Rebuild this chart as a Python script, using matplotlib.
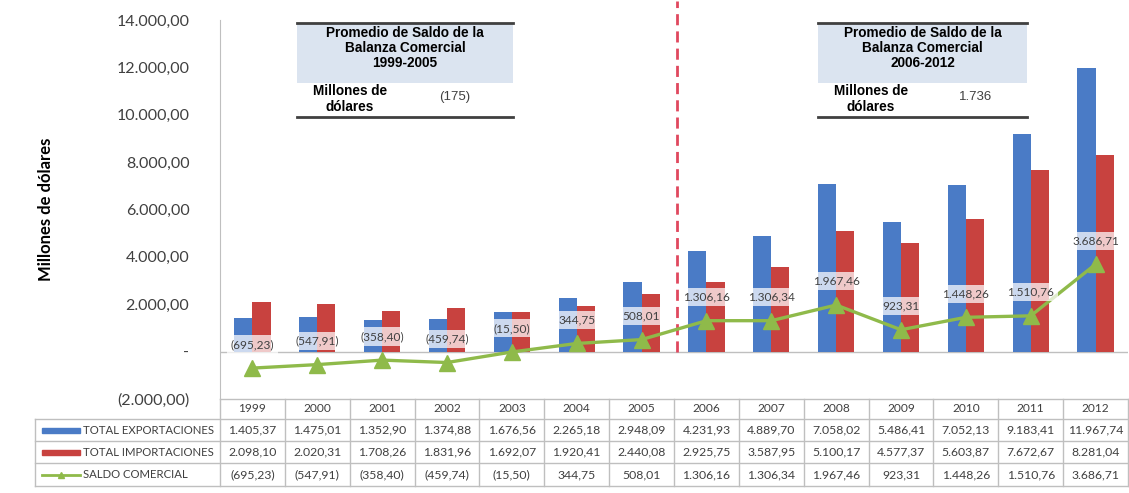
import numpy as np
import matplotlib.pyplot as plt
from matplotlib.transforms import blended_transform_factory

# data
years = ['1999', '2000', '2001', '2002', '2003', '2004', '2005',
         '2006', '2007', '2008', '2009', '2010', '2011', '2012']
exportaciones = [1405.37, 1475.01, 1352.90, 1374.88, 1676.56, 2265.18, 2948.09,
                 4231.93, 4889.70, 7058.02, 5486.41, 7052.13, 9183.41, 11967.74]
importaciones = [2098.10, 2020.31, 1708.26, 1831.96, 1692.07, 1920.41, 2440.08,
                 2925.75, 3587.95, 5100.17, 4577.37, 5603.87, 7672.67, 8281.04]
saldo = [-695.23, -547.91, -358.40, -459.74, -15.50, 344.75, 508.01,
         1306.16, 1306.34, 1967.46, 923.31, 1448.26, 1510.76, 3686.71]
series_names = ['TOTAL EXPORTACIONES', 'TOTAL IMPORTACIONES', 'SALDO COMERCIAL']
promedio_1 = '(175)'
promedio_2 = '1.736'

blue = '#4a7bc6'
red = '#c8423f'
green = '#8fba4a'
grid_gray = '#bfbfbf'
text_gray = '#404040'
calibri = ['Lato', 'DejaVu Sans']
arial = ['Liberation Sans', 'DejaVu Sans']


def fmt(v):
    s = '{:,.2f}'.format(abs(v)).replace(',', 'X').replace('.', ',').replace('X', '.')
    return '(' + s + ')' if v < 0 else s


W, H = 1129, 493
fig = plt.figure(figsize=(W / 100, H / 100), dpi=100)

left, right, top, bottom = 220, 1128, 20, 399
ax = fig.add_axes([left / W, 1 - bottom / H, (right - left) / W, (bottom - top) / H])
x = np.arange(len(years))
bw = 0.28

ax.bar(x - bw / 2, exportaciones, bw, color=blue, zorder=2)
ax.bar(x + bw / 2, importaciones, bw, color=red, zorder=2)
ax.axhline(0, color=grid_gray, lw=1, zorder=1)
ax.plot(x, saldo, color=green, lw=2.4, marker='^', ms=11, zorder=4)

for xi, v in zip(x, saldo):
    ax.annotate(fmt(v), (xi, v), xytext=(0, 17), textcoords='offset points',
                ha='center', va='center', fontsize=8.6, color=text_gray, family=calibri,
                bbox=dict(boxstyle='square,pad=0.3', fc='white', ec='none', alpha=0.72),
                zorder=5)

ax.set_xlim(-0.5, len(years) - 0.5)
ax.set_ylim(-2000, 14000)
ax.set_yticks(np.arange(-2000, 14001, 2000))
ylabels = []
for t in ax.get_yticks():
    if t == 0:
        ylabels.append('-')
    else:
        ylabels.append(fmt(t)[:-3] + ',00' if t > 0 else '(' + fmt(t)[1:-4] + ',00)')
ax.set_yticklabels(ylabels, family=calibri, fontsize=11.5, color=text_gray)
ax.tick_params(axis='y', length=0, pad=22)
ax.set_xticks([])
for s in ['top', 'right', 'bottom']:
    ax.spines[s].set_visible(False)
ax.spines['left'].set_color(grid_gray)
ax.set_ylabel('Millones de dólares', family=calibri, fontsize=12, fontweight='bold',
              labelpad=45)

# split line between the two periods
trans = blended_transform_factory(ax.transData, ax.transAxes)
ax.plot([6.55, 6.55], [(0 - -2000) / 16000, 1.05], transform=trans, color='#e0485e',
        lw=2, ls=(0, (4, 2.2)), clip_on=False, zorder=3)

# overlay in pixel coordinates for the table and the inset boxes
ov = fig.add_axes([0, 0, 1, 1], facecolor='none')
ov.set_xlim(0, W)
ov.set_ylim(H, 0)
ov.axis('off')

colw = (right - left) / len(years)
rows_y = [399, 419, 441, 463, 486]
lc = grid_gray
ov.plot([left, right], [rows_y[0], rows_y[0]], color=lc, lw=1)
for yy in rows_y[1:]:
    ov.plot([35, right], [yy, yy], color=lc, lw=1)
ov.plot([35, 35], [rows_y[1], rows_y[-1]], color=lc, lw=1)
for i in range(len(years) + 1):
    ov.plot([left + i * colw] * 2, [rows_y[0], rows_y[-1]], color=lc, lw=1)

row_vals = [exportaciones, importaciones, saldo]
for i, yr in enumerate(years):
    cx = left + (i + 0.5) * colw
    ov.text(cx, (rows_y[0] + rows_y[1]) / 2, yr, ha='center', va='center',
            fontsize=8.6, family=calibri, color=text_gray)
    for r, vals in enumerate(row_vals):
        ov.text(cx, (rows_y[r + 1] + rows_y[r + 2]) / 2, fmt(vals[i]), ha='center',
                va='center', fontsize=8.8, family=calibri, color=text_gray)

for r, name in enumerate(series_names):
    cy = (rows_y[r + 1] + rows_y[r + 2]) / 2
    if r < 2:
        ov.add_patch(plt.Rectangle((42, cy - 2.5), 38, 5, color=[blue, red][r]))
    else:
        ov.plot([42, 80], [cy, cy], color=green, lw=2)
        ov.plot([61], [cy], marker='^', color=green, ms=5)
    ov.text(83, cy, name, ha='left', va='center', fontsize=8.2, family=calibri,
            color=text_gray)

# inset boxes with period averages
for x0, x1, period, val in [(297, 513, '1999-2005', promedio_1),
                            (818, 1027, '2006-2012', promedio_2)]:
    ov.add_patch(plt.Rectangle((x0, 23), x1 - x0, 60, color='#dbe4f0', lw=0))
    ov.plot([x0, x1], [23, 23], color='#404040', lw=2)
    ov.plot([x0, x1], [117, 117], color='#404040', lw=2)
    ov.text((x0 + x1) / 2, 48, 'Promedio de Saldo de la\nBalanza Comercial\n' + period,
            ha='center', va='center', fontsize=9.8, fontweight='bold', family=arial,
            linespacing=1.12)
    ov.text(x0 + 53, 99, 'Millones de\ndólares', ha='center', va='center', fontsize=9.8,
            fontweight='bold', family=arial, linespacing=1.1)
    ov.text(x0 + 158, 97, val, ha='center', va='center', fontsize=9.5, family=arial,
            color=text_gray)

fig.savefig('out.png', dpi=100)
